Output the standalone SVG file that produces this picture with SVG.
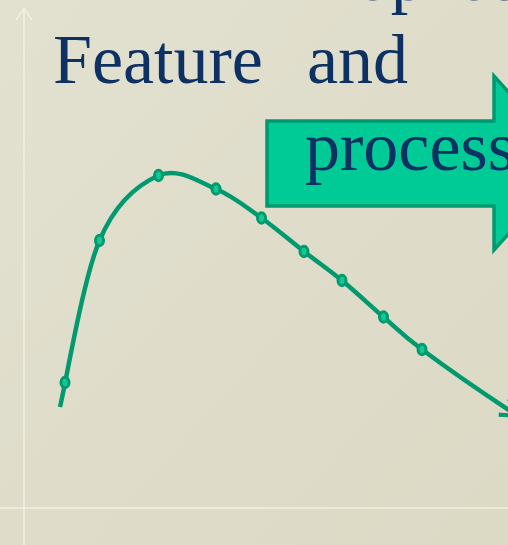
<svg xmlns="http://www.w3.org/2000/svg" width="508" height="545" viewBox="0 0 508 545">
  <defs>
    <linearGradient id="bg" x1="0" y1="0" x2="1" y2="1">
      <stop offset="0" stop-color="#e2e0cf"/>
      <stop offset="1" stop-color="#dcdac5"/>
    </linearGradient>
    <marker id="curveEnd" viewBox="0 0 12 12" refX="10" refY="6" markerWidth="5" markerHeight="5" markerUnits="strokeWidth" orient="auto">
      <path d="M1,1 L10,6 L1,11" fill="none" stroke="#009a6e" stroke-width="2.2"/>
    </marker>
  </defs>
  <style>
    .title { font-family: "Liberation Serif", "Times New Roman", serif; font-size: 70px; fill: #0e3163; }
    .guide { stroke: #f4f2e8; stroke-width: 1.5; fill: none; opacity: 0.85; }
    .curve { fill: none; stroke: #009a6e; stroke-width: 4.5; stroke-linecap: butt; }
    .dot { fill: #12c996; stroke: #009a6e; stroke-width: 3; }
    .arrow { fill: #00cb97; stroke: #00996f; stroke-width: 3.5; stroke-linejoin: miter; }
  </style>

  <rect x="0" y="0" width="508" height="545" fill="url(#bg)"/>

  <g id="guides">
    <line class="guide" x1="24" y1="8" x2="24" y2="545"/>
    <polyline class="guide" points="16,20 24,8 32,20"/>
    <line class="guide" x1="0" y1="508" x2="508" y2="508"/>
  </g>

  <g id="title">
    <text class="title" x="305" y="0" letter-spacing="4">Representation</text>
    <text class="title" x="53" y="83">Feature</text>
    <text class="title" x="307" y="83">and</text>
  </g>

  <g id="process-arrow">
    <polygon class="arrow" points="267,121 494,121 494,76 572,163 494,250 494,206 267,206"/>
    <text class="title" x="305" y="170">process</text>
  </g>

  <g id="connectors">
    <path class="curve" marker-end="url(#curveEnd)" d="M60,407 C66.6,379.25 83.1,279.1 99.5,240.5 C115.9,201.9 139.1,184.1 158.5,175.5 C177.9,166.9 198.8,181.9 216,189 C233.2,196.1 246.8,207.6 261.5,218 C276.2,228.4 290.6,241.1 304,251.5 C317.4,261.9 328.75,269.6 342,280.5 C355.25,291.4 370.2,305.5 383.5,317 C396.8,328.5 401.25,334 422,349.5 C442.75,365 475,388 518,416"/>
  </g>

  <g id="points">
    <ellipse class="dot" cx="65" cy="382.5" rx="4" ry="5.2"/>
    <ellipse class="dot" cx="99.5" cy="240.5" rx="4" ry="5.2"/>
    <ellipse class="dot" cx="158.5" cy="175.5" rx="4" ry="5.2"/>
    <ellipse class="dot" cx="216" cy="189" rx="4" ry="5.2"/>
    <ellipse class="dot" cx="261.5" cy="218" rx="4" ry="5.2"/>
    <ellipse class="dot" cx="304" cy="251.5" rx="4" ry="5.2"/>
    <ellipse class="dot" cx="342" cy="280.5" rx="4" ry="5.2"/>
    <ellipse class="dot" cx="383.5" cy="317" rx="4" ry="5.2"/>
    <ellipse class="dot" cx="422" cy="349.5" rx="4" ry="5.2"/>
  </g>
</svg>
